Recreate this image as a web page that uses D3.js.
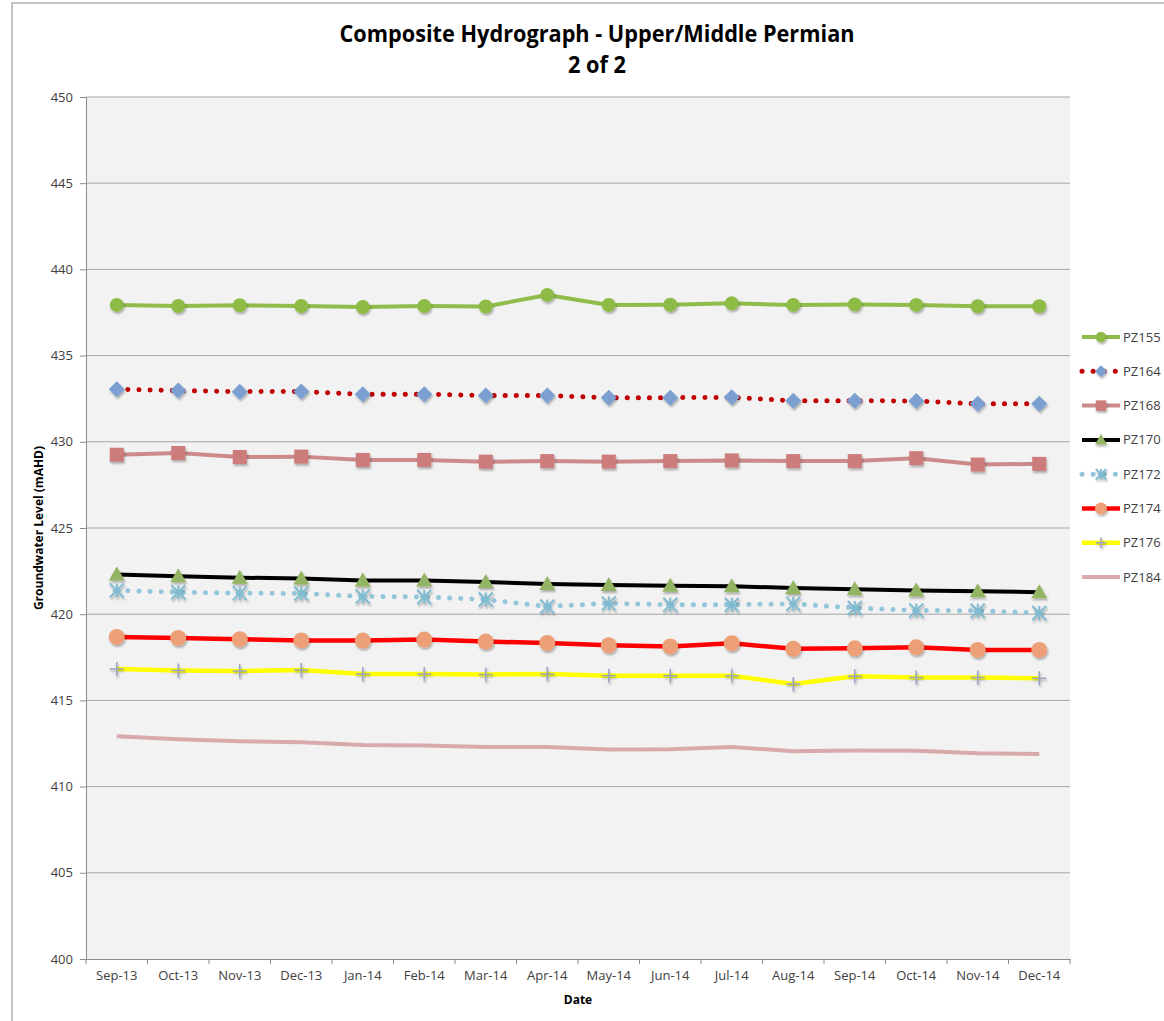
<!DOCTYPE html>
<html><head><meta charset="utf-8">
<script src="https://cdn.jsdelivr.net/npm/d3@7"></script>
<style>
html,body{margin:0;padding:0;background:#fff;}
text{font-family:"Liberation Sans Narrow","Open Sans",sans-serif;}
</style></head>
<body><svg id="c" width="1164" height="1021"></svg>
<script>
const categories = ["Sep-13","Oct-13","Nov-13","Dec-13","Jan-14","Feb-14","Mar-14","Apr-14","May-14","Jun-14","Jul-14","Aug-14","Sep-14","Oct-14","Nov-14","Dec-14"];
const yTicks = [400,405,410,415,420,425,430,435,440,445,450];
const seriesNames = ["PZ155","PZ164","PZ168","PZ170","PZ172","PZ174","PZ176","PZ184"];
const PZ155 = [437.94,437.88,437.92,437.88,437.82,437.87,437.85,438.52,437.94,437.95,438.03,437.94,437.96,437.94,437.86,437.86];
const PZ164 = [433.05,432.97,432.91,432.92,432.76,432.76,432.68,432.68,432.56,432.56,432.58,432.38,432.38,432.37,432.2,432.2];
const PZ168 = [429.25,429.35,429.12,429.14,428.95,428.95,428.85,428.88,428.85,428.88,428.92,428.88,428.88,429.05,428.68,428.72];
const PZ170 = [422.3,422.2,422.12,422.07,421.95,421.95,421.87,421.75,421.7,421.65,421.62,421.52,421.45,421.38,421.33,421.28];
const PZ172 = [421.38,421.27,421.22,421.2,421.03,421.0,420.85,420.45,420.63,420.55,420.55,420.6,420.36,420.22,420.2,420.07];
const PZ174 = [418.68,418.62,418.55,418.48,418.47,418.53,418.41,418.33,418.2,418.13,418.32,417.99,418.02,418.08,417.93,417.93];
const PZ176 = [416.82,416.74,416.7,416.77,416.53,416.53,416.5,416.53,416.43,416.43,416.43,415.95,416.4,416.33,416.33,416.28];
const PZ184 = [412.92,412.75,412.63,412.57,412.42,412.38,412.3,412.3,412.15,412.17,412.3,412.05,412.1,412.08,411.93,411.89];
const seriesValues = [PZ155,PZ164,PZ168,PZ170,PZ172,PZ174,PZ176,PZ184];

const styles = {
  PZ155:{line:"#8fbc4a",dash:null,w:4,marker:"circle",mfill:"#8dbb45",ms:7},
  PZ164:{line:"#c00000",dash:"0.1 11",w:5,cap:"round",marker:"diamond",mfill:"#7b9fd2",ms:8},
  PZ168:{line:"#cc8a8a",dash:null,w:4,marker:"square",mfill:"#cd7b7b",ms:7},
  PZ170:{line:"#000000",dash:null,w:4,marker:"triangle",mfill:"#93b563",ms:8},
  PZ172:{line:"#93c6da",dash:"0.1 11",w:5,cap:"round",marker:"asterisk",mfill:"#7fbcd2",ms:7},
  PZ174:{line:"#ff0000",dash:null,w:4.5,marker:"circle",mfill:"#eda077",ms:8},
  PZ176:{line:"#ffff00",dash:null,w:4.5,marker:"plus",mfill:"#9aa3c0",ms:7},
  PZ184:{line:"#d9aaaa",dash:null,w:4,marker:"dash",mfill:"#b9a2a8",ms:4}
};

const svg = d3.select("#c");
const defs = svg.append("defs");
const f = defs.append("filter").attr("id","sh").attr("x","-50%").attr("y","-50%").attr("width","200%").attr("height","200%");
f.append("feDropShadow").attr("dx",1).attr("dy",2).attr("stdDeviation",1.2).attr("flood-color","#000").attr("flood-opacity",0.3);

// outer frame
svg.append("rect").attr("x",12).attr("y",3).attr("width",1160).attr("height",1030)
  .attr("fill","#fff").attr("stroke","#8c8c8c").attr("stroke-width",1);

const m = {l:86,r:1070,t:97,b:959};
const x = d3.scaleBand().domain(categories).range([m.l,m.r]).paddingInner(0).paddingOuter(0);
const y = d3.scaleLinear().domain([400,450]).range([m.b,m.t]);

svg.append("rect").attr("x",m.l).attr("y",m.t).attr("width",m.r-m.l).attr("height",m.b-m.t).attr("fill","#f2f2f2");

// gridlines
svg.append("g").selectAll("line").data(yTicks.filter(d=>d>400)).join("line")
  .attr("x1",m.l).attr("x2",m.r).attr("y1",d=>y(d)).attr("y2",d=>y(d))
  .attr("stroke","#a6a6a6").attr("stroke-width",1);

// y axis
const ya = svg.append("g").attr("transform",`translate(${m.l},0)`)
  .call(d3.axisLeft(y).tickValues(yTicks).tickSize(6).tickPadding(7).tickFormat(d3.format("d")));
ya.select(".domain").attr("stroke","#8c8c8c");
ya.selectAll(".tick line").attr("stroke","#8c8c8c");
ya.selectAll("text").attr("font-size",13).attr("fill","#404040");

// x axis
const xa = svg.append("g").attr("transform",`translate(0,${m.b})`)
  .call(d3.axisBottom(x).tickSize(0).tickPadding(12));
xa.select(".domain").attr("stroke","#8c8c8c");
xa.selectAll("text").attr("font-size",13).attr("fill","#404040");
// between-category tick marks
svg.append("g").selectAll("line").data(d3.range(categories.length+1)).join("line")
  .attr("x1",i=>m.l+i*x.step()).attr("x2",i=>m.l+i*x.step())
  .attr("y1",m.b).attr("y2",m.b+5).attr("stroke","#8c8c8c");

// titles
svg.append("text").attr("x",597).attr("y",42).attr("text-anchor","middle")
  .attr("font-size",23).attr("font-weight","bold").attr("fill","#000")
  .attr("textLength",515).attr("lengthAdjust","spacingAndGlyphs")
  .text("Composite Hydrograph - Upper/Middle Permian");
svg.append("text").attr("x",597).attr("y",73).attr("text-anchor","middle")
  .attr("font-size",23).attr("font-weight","bold").attr("fill","#000")
  .attr("textLength",58).attr("lengthAdjust","spacingAndGlyphs").text("2 of 2");
svg.append("text").attr("transform",`translate(43,${(m.t+m.b)/2}) rotate(-90)`).attr("text-anchor","middle")
  .attr("font-size",12).attr("font-weight","bold").attr("fill","#000").text("Groundwater Level (mAHD)");
svg.append("text").attr("x",578).attr("y",1004).attr("text-anchor","middle")
  .attr("font-size",12).attr("font-weight","bold").attr("fill","#000").text("Date");

function drawMarker(g, type, s, fill){
  if(type==="circle") g.append("circle").attr("r",s).attr("fill",fill);
  else if(type==="square") g.append("rect").attr("x",-s).attr("y",-s).attr("width",2*s).attr("height",2*s).attr("fill",fill);
  else if(type==="diamond") g.append("path").attr("d",`M0,${-s}L${s},0L0,${s}L${-s},0Z`).attr("fill",fill);
  else if(type==="triangle") g.append("path").attr("d",`M0,${-s}L${s},${s*0.75}L${-s},${s*0.75}Z`).attr("fill",fill);
  else if(type==="asterisk") g.append("path").attr("d",`M${-s},${-s}L${s},${s}M${-s},${s}L${s},${-s}M0,${-s}L0,${s}M${-s*0.6},0L${s*0.6},0`).attr("stroke",fill).attr("stroke-width",2).attr("fill","none");
  else if(type==="plus") g.append("path").attr("d",`M${-s},0L${s},0M0,${-s}L0,${s}`).attr("stroke",fill).attr("stroke-width",1.5).attr("fill","none");
  else if(type==="dash") g.append("path").attr("d",`M${-s},0L${s},0`).attr("stroke",fill).attr("stroke-width",2).attr("fill","none");
}

const line = d3.line().x((d,i)=>x(categories[i])+x.bandwidth()/2).y(d=>y(d));
seriesNames.forEach((name,si)=>{
  const st = styles[name];
  const vals = seriesValues[si];
  const g = svg.append("g");
  g.append("path").datum(vals).attr("d",line).attr("fill","none")
    .attr("stroke",st.line).attr("stroke-width",st.w)
    .attr("stroke-dasharray",st.dash).attr("stroke-linecap",st.cap||"butt").attr("stroke-linejoin","round");
  vals.forEach((v,i)=>{
    const mg = g.append("g").attr("transform",`translate(${x(categories[i])+x.bandwidth()/2},${y(v)+(st.marker==="dash"?1.5:0)})`).attr("filter","url(#sh)");
    drawMarker(mg, st.marker, st.ms, st.mfill);
  });
});

// legend
const lg = svg.append("g");
seriesNames.forEach((name,i)=>{
  const st = styles[name];
  const ly = 337 + i*34.3;
  const g = lg.append("g").attr("transform",`translate(0,${ly})`);
  g.append("line").attr("x1",1082).attr("x2",1120).attr("y1",0).attr("y2",0)
    .attr("stroke",st.line).attr("stroke-width",st.w).attr("stroke-dasharray",st.dash).attr("stroke-linecap",st.cap||"butt");
  if(st.marker!=="dash"){
    const mg = g.append("g").attr("transform","translate(1101,0)").attr("filter","url(#sh)");
    drawMarker(mg, st.marker, st.ms*0.75, st.mfill);
  }
  g.append("text").attr("x",1123).attr("y",4.5).attr("font-size",13).attr("fill","#404040").text(name);
});
</script></body></html>
